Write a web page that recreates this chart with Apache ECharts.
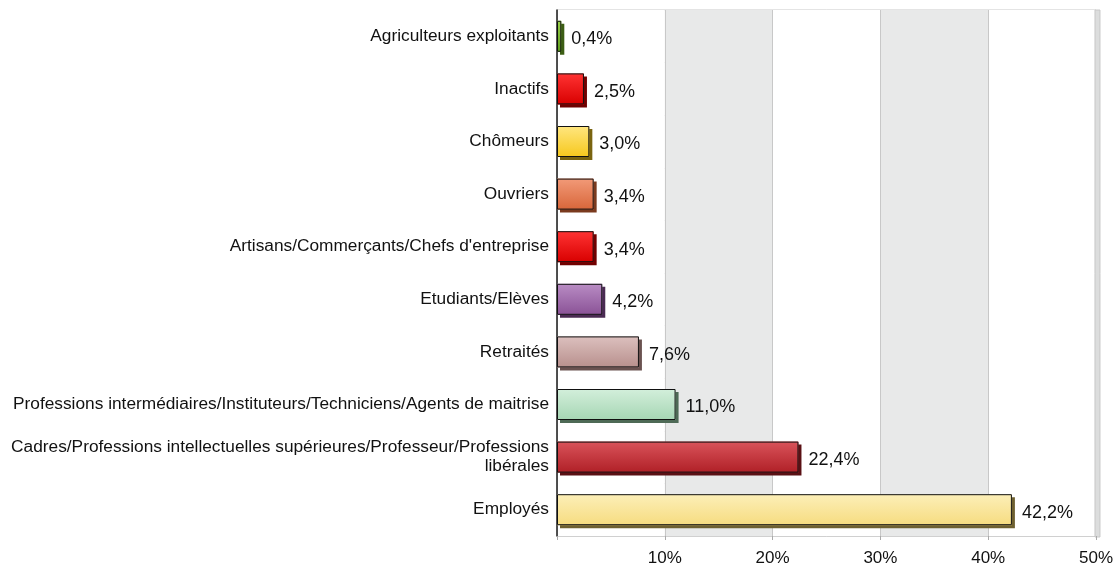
<!DOCTYPE html>
<html><head><meta charset="utf-8">
<script src="https://cdn.jsdelivr.net/npm/echarts@6/dist/echarts.min.js"></script>
<style>html,body{margin:0;padding:0;background:#fff}#c{width:1116px;height:567px}</style>
</head><body><div id="c"></div>
<script>
const categories = [
  "Agriculteurs exploitants",
  "Inactifs",
  "Chômeurs",
  "Ouvriers",
  "Artisans/Commerçants/Chefs d'entreprise",
  "Etudiants/Elèves",
  "Retraités",
  "Professions intermédiaires/Instituteurs/Techniciens/Agents de maitrise",
  "Cadres/Professions intellectuelles supérieures/Professeur/Professions\nlibérales",
  "Employés"
];
const values = [0.4, 2.5, 3.0, 3.4, 3.4, 4.2, 7.6, 11.0, 22.4, 42.2];
const xTicks = [0, 10, 20, 30, 40, 50];
const topColors =    ['#9ad04a','#ff3333','#ffe680','#f29a78','#ff3333','#b98cc4','#dcc0be','#d3efdb','#d9535a','#fcefb8'];
const bottomColors = ['#5e9e1c','#d80000','#f6c81c','#d8663a','#d80000','#8a5296','#b8908d','#a6d6b4','#b02027','#f6dc80'];
const shadowColors = ['#3c5e14','#700000','#7a6410','#7a3a1e','#700000','#4a2a52','#6a5250','#4e6a56','#5a1014','#6e6030'];

const fillData = values.map((v, i) => ({
  value: v,
  itemStyle: {
    color: {type:'linear', x:0, y:0, x2:0, y2:1, colorStops:[
      {offset:0, color: topColors[i]}, {offset:1, color: bottomColors[i]}]},
    shadowColor: shadowColors[i], shadowOffsetX: 3, shadowOffsetY: 3, shadowBlur: 0
  }
}));

const FONT = 'Liberation Sans';
const chart = echarts.init(document.getElementById('c'));
chart.setOption({
  animation: false,
  grid: {left: 557, right: 20, top: 10, bottom: 30, show: true, borderColor: '#c8c8c8', borderWidth: 1},
  xAxis: {
    type: 'value', min: xTicks[0], max: xTicks[xTicks.length - 1], interval: 10,
    axisLine: {show: false},
    axisTick: {show: true, length: 4, lineStyle: {color: '#aaa'}},
    axisLabel: {margin: 14, color: '#111', fontSize: 17, fontFamily: FONT,
      formatter: v => v === 0 ? '' : v + '%'},
    splitLine: {show: true, lineStyle: {color: '#c8c8c8'}},
    splitArea: {show: true, areaStyle: {color: ['#ffffff', '#e8e9e9']}}
  },
  yAxis: {
    type: 'category', data: categories, inverse: true,
    axisLine: {show: true, lineStyle: {color: '#222', width: 1.5}},
    axisTick: {show: false},
    splitLine: {show: true, lineStyle: {color: '#d0d0d0'}},
    axisLabel: {margin: 8, color: '#111', fontSize: 17.3, fontFamily: FONT, align: 'right', lineHeight: 19}
  },
  series: [{
    type: 'bar', data: fillData, barWidth: 31
  }, {
    type: 'bar', data: values, barWidth: 31, barGap: '-100%',
    itemStyle: {color: 'rgba(0,0,0,0)', borderColor: '#111', borderWidth: 1},
    label: {show: true, position: 'right', distance: 10, color: '#111', fontSize: 18,
      fontFamily: FONT, offset: [0, 3],
      formatter: p => p.value.toFixed(1).replace('.', ',') + '%'}
  }]
});
// 3D side wall strip at the right edge of the plot
const xEnd = chart.convertToPixel({xAxisIndex: 0}, xTicks[xTicks.length - 1]);
chart.setOption({graphic: [{
  type: 'rect', silent: true,
  shape: {x: xEnd - 1, y: 10, width: 5, height: 527},
  style: {fill: '#dcdddd', stroke: '#c8c8c8', lineWidth: 1}
}]});
</script></body></html>
